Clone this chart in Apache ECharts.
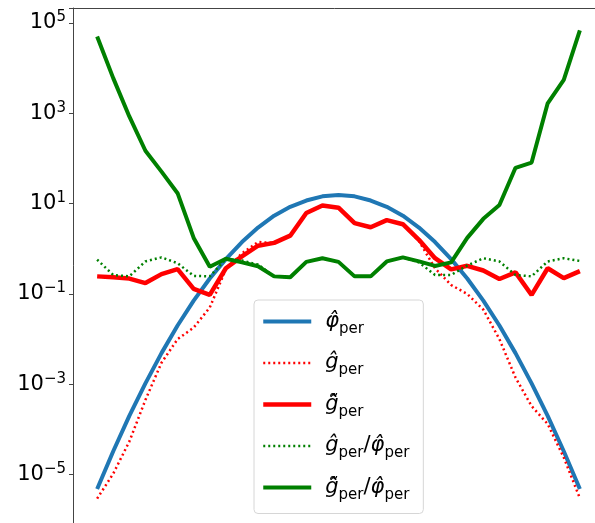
<!DOCTYPE html>
<html>
<head>
<meta charset="utf-8">
<script src="https://cdn.jsdelivr.net/npm/echarts@6/dist/echarts.min.js"></script>
<style>
  html, body { margin: 0; padding: 0; background: #fff; }
  #chart { width: 595px; height: 523px; }
</style>
</head>
<body>
<div id="chart"></div>
<script>
// x index 0..30
var xs = [0,1,2,3,4,5,6,7,8,9,10,11,12,13,14,15,16,17,18,19,20,21,22,23,24,25,26,27,28,29,30];

// φ̂_per (blue)
var phiHat = [4.8e-6, 3.3e-5, 2.0e-4, 1.05e-3, 4.9e-3, 0.020, 0.071, 0.22, 0.59, 1.41, 2.95, 5.4, 8.5, 11.7, 14.5, 15.5,
              14.5, 11.7, 8.5, 5.4, 2.95, 1.41, 0.59, 0.22, 0.071, 0.020, 4.9e-3, 1.05e-3, 2.0e-4, 3.3e-5, 4.8e-6];
// ĝ_per (red dotted)
var gHat = [2.95e-6, 1.05e-5, 5.4e-5, 4.5e-4, 3.0e-3, 0.010, 0.018, 0.050, 0.35, 0.79, 1.41, 1.35, 1.95, 6.2, 9.1, 8.1,
            3.7, 3.0, 4.3, 3.5, 1.48, 0.37, 0.158, 0.100, 0.045, 0.010, 1.41e-3, 3.3e-4, 1.32e-4, 2.4e-5, 3.0e-6];
// g̃̂_per (red solid)
var gTilde = [0.245, 0.234, 0.219, 0.174, 0.275, 0.355, 0.129, 0.095, 0.37, 0.68, 1.17, 1.35, 1.95, 6.2, 9.1, 8.1,
              3.7, 3.0, 4.3, 3.5, 1.58, 0.62, 0.35, 0.42, 0.33, 0.214, 0.30, 0.095, 0.37, 0.224, 0.32];
// ĝ_per / φ̂_per (green dotted)
var ratioHat = [0.575, 0.263, 0.245, 0.525, 0.645, 0.48, 0.251, 0.245, 0.59, 0.55, 0.447, 0.245, 0.234, 0.513, 0.617, 0.513,
                0.245, 0.245, 0.525, 0.645, 0.50, 0.263, 0.263, 0.427, 0.617, 0.525, 0.263, 0.245, 0.525, 0.617, 0.537];
// g̃̂_per / φ̂_per (green solid)
var ratioTilde = [5.0e4, 6.0e3, 850, 148, 51, 17, 1.74, 0.40, 0.60, 0.50, 0.41, 0.245, 0.234, 0.513, 0.617, 0.513,
                  0.245, 0.245, 0.525, 0.645, 0.525, 0.417, 0.50, 1.74, 4.6, 9.3, 62, 81, 1660, 5500, 6.8e4];

var names = ['phiHat', 'gHat', 'gTilde', 'ratioHat', 'ratioTilde'];
var legendText = {
  phiHat: '{m|\u03c6\u0302}{s|per}',
  gHat: '{m|g\u0302}{s|per}',
  gTilde: '{m|g\u0303\u0302}{s|per}',
  ratioHat: '{m|g\u0302}{s|per}{n|/}{m|\u03c6\u0302}{s|per}',
  ratioTilde: '{m|g\u0303\u0302}{s|per}{n|/}{m|\u03c6\u0302}{s|per}'
};

function pairs(arr) {
  return xs.map(function (x, i) { return [x, arr[i]]; });
}

var myChart = echarts.init(document.getElementById('chart'));
myChart.setOption({
  animation: false,
  grid: { left: 73, top: 8, width: 531, height: 557, containLabel: false, outerBoundsMode: 'none' },
  xAxis: {
    type: 'value',
    position: 'top',
    min: -1.5,
    max: 31.5,
    axisLine: { show: true, onZero: false, lineStyle: { color: '#444', width: 1 } },
    axisTick: { show: false },
    axisLabel: { show: false },
    splitLine: { show: false }
  },
  yAxis: {
    type: 'log',
    logBase: 10,
    min: 1e-7,
    max: Math.pow(10, 5.33),
    interval: 2,
    axisLine: { show: true, onZero: false, lineStyle: { color: '#444', width: 1 } },
    axisTick: { show: true, inside: false, length: 4, lineStyle: { color: '#444' } },
    splitLine: { show: false },
    axisLabel: {
      margin: 7,
      formatter: function (v) {
        var e = Math.log10(v);
        var r = Math.round(e);
        if (Math.abs(e - r) > 0.01) return '';
        return '{b|10}{p|' + String(r).replace('-', '\u2212') + '}';
      },
      rich: {
        b: { fontSize: 21, fontFamily: 'DejaVu Sans', color: '#000', lineHeight: 26 },
        p: { fontSize: 15, fontFamily: 'DejaVu Sans', color: '#000', lineHeight: 14, verticalAlign: 'top' }
      }
    }
  },
  legend: {
    orient: 'vertical',
    left: 254,
    top: 300,
    data: [
      { name: 'phiHat', lineStyle: { width: 4 } },
      { name: 'gHat', lineStyle: { width: 2.5 } },
      { name: 'gTilde', lineStyle: { width: 4.5 } },
      { name: 'ratioHat', lineStyle: { width: 2.5 } },
      { name: 'ratioTilde', lineStyle: { width: 4 } }
    ],
    itemWidth: 48,
    itemHeight: 14,
    itemGap: 16,
    padding: [11, 14, 11, 7],
    backgroundColor: 'rgba(255,255,255,0.8)',
    borderColor: '#d6d6d6',
    borderWidth: 1,
    borderRadius: 4,
    itemStyle: { color: 'rgba(0,0,0,0)', borderWidth: 0 },
    formatter: function (name) { return legendText[name]; },
    textStyle: {
      padding: [0, 0, 0, 9],
      rich: {
        m: { fontSize: 21, fontStyle: 'italic', fontFamily: 'DejaVu Sans', color: '#000', lineHeight: 30 },
        n: { fontSize: 21, fontFamily: 'DejaVu Sans', color: '#000', lineHeight: 30 },
        s: { fontSize: 15, fontFamily: 'DejaVu Sans', color: '#000', lineHeight: 18, verticalAlign: 'bottom' }
      }
    }
  },
  series: [
    { name: 'phiHat', type: 'line', symbol: 'none', data: pairs(phiHat),
      color: '#1f77b4', lineStyle: { color: '#1f77b4', width: 4 } },
    { name: 'gHat', type: 'line', symbol: 'none', data: pairs(gHat),
      color: '#ff0000', lineStyle: { color: '#ff0000', width: 2.5, type: [2, 3] } },
    { name: 'gTilde', type: 'line', symbol: 'none', data: pairs(gTilde),
      color: '#ff0000', lineStyle: { color: '#ff0000', width: 4.5 } },
    { name: 'ratioHat', type: 'line', symbol: 'none', data: pairs(ratioHat),
      color: '#008000', lineStyle: { color: '#008000', width: 2.5, type: [2, 3] } },
    { name: 'ratioTilde', type: 'line', symbol: 'none', data: pairs(ratioTilde),
      color: '#008000', lineStyle: { color: '#008000', width: 4 } }
  ]
});
</script>
</body>
</html>
